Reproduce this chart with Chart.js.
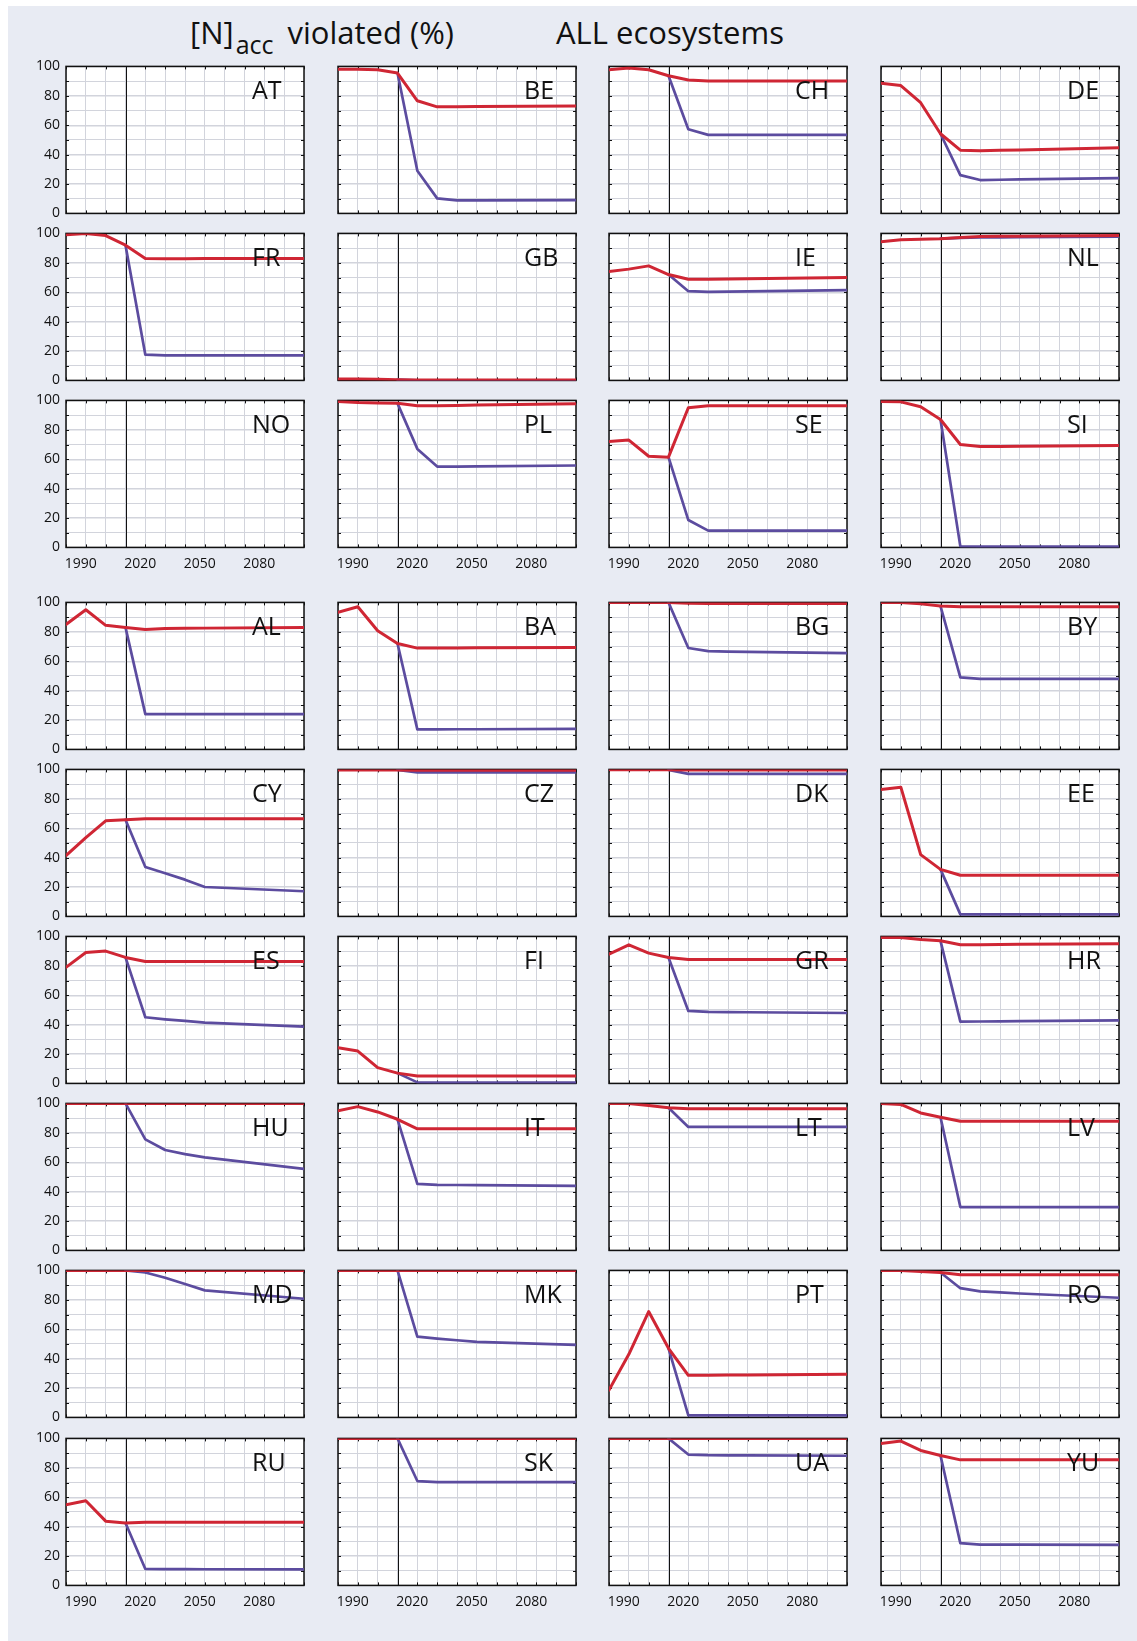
<!DOCTYPE html>
<html>
<head>
<meta charset="utf-8">
<script src="https://cdn.jsdelivr.net/npm/chart.js@4.4.1/dist/chart.umd.min.js"></script>
<style>
  body { margin: 0; background: #fff; width: 1137px; height: 1641px; position: relative; overflow: hidden; font-family: "Open Sans", sans-serif; }
  #bg { position: absolute; left: 8px; top: 6px; right: 0; bottom: 0; background: #e8ebf3; }
  .title { position: absolute; font-size: 31px; line-height: 31px; color: #111; white-space: nowrap; }
  .title sub { font-size: 25px; vertical-align: baseline; position: relative; top: 10px; margin-left: 2px; margin-right: 6px; }
  canvas { position: absolute; }
</style>
</head>
<body>
<div id="bg"></div>
<div class="title" style="left:190px;top:17px">[N]<sub>acc</sub> violated (%)</div>
<div class="title" style="left:556px;top:17px">ALL ecosystems</div>
<script>
// years of the data points, shared by every panel
const years = [1980, 1990, 2000, 2010, 2020, 2030, 2040, 2050, 2100];
const yearLabels = [1990, 2020, 2050, 2080];
const percentLabels = [0, 20, 40, 60, 80, 100];
const markerYear = 2010;

// upper block (3 rows)
const countriesTop = ["AT", "BE", "CH", "DE", "FR", "GB", "IE", "NL", "NO", "PL", "SE", "SI"];
// red line
const cleTop = [
  [],
  [98, 98, 97.7, 95.5, 76.6, 72.5, 72.6, 72.7, 73],
  [97.7, 98.9, 97.7, 93.6, 90.8, 90, 90, 90, 90],
  [88.6, 87, 75.3, 54.2, 43, 42.6, 42.9, 43.2, 44.6],
  [99, 100, 98.5, 92, 83, 82.8, 82.8, 82.9, 83],
  [1, 1, 0.8, 0.5, 0.3, 0.3, 0.3, 0.3, 0.3],
  [74, 75.7, 77.9, 72, 68.8, 68.8, 69, 69.2, 70],
  [94.3, 95.7, 96, 96.4, 97.2, 97.9, 98, 98.1, 98.6],
  [],
  [99.3, 98.6, 98.3, 98, 96.4, 96.4, 96.6, 96.8, 97.8],
  [72, 73, 62, 61.4, 95, 96.4, 96.4, 96.4, 96.4],
  [99.3, 99, 95.7, 87, 70, 68.6, 68.7, 68.8, 69.3]
];
// blue line
const mfrTop = [
  [],
  [null, null, null, 95.5, 29, 10.2, 8.9, 8.9, 9],
  [null, null, null, 93.6, 57.2, 53.4, 53.4, 53.4, 53.4],
  [null, null, null, 54.2, 26, 22.7, 22.9, 23.1, 24],
  [null, null, null, 92, 17.5, 17, 17, 17, 17],
  [null, null, null, 0.5, 0, 0, 0, 0, 0],
  [null, null, null, 72, 60.7, 60.2, 60.4, 60.6, 61.4],
  [null, null, null, 96.4, 97, 97.2, 97.3, 97.4, 97.8],
  [],
  [null, null, null, 98, 67, 55, 55, 55.1, 55.7],
  [null, null, null, 61.4, 18.6, 11.4, 11.4, 11.4, 11.4],
  [null, null, null, 87, 0.7, 0.5, 0.5, 0.5, 0.5]
];

// lower block (6 rows)
const countriesBottom = ["AL", "BA", "BG", "BY", "CY", "CZ", "DK", "EE", "ES", "FI", "GR", "HR",
  "HU", "IT", "LT", "LV", "MD", "MK", "PT", "RO", "RU", "SK", "UA", "YU"];
const cleBottom = [
  [85, 95, 84.4, 83, 81.6, 82.3, 82.4, 82.5, 83],
  [93.2, 97, 80.7, 72, 68.9, 69, 69, 69.1, 69.3],
  [100, 100, 100, 100, 99.4, 99.3, 99.3, 99.3, 99.3],
  [100, 100, 99, 97.5, 97, 97, 97, 97, 97],
  [41.4, 53.6, 65, 65.7, 66.4, 66.4, 66.4, 66.4, 66.4],
  [99.6, 99.6, 99.6, 99.6, 99.5, 99.5, 99.5, 99.5, 99.5],
  [99.7, 99.7, 99.7, 99.7, 99.6, 99.6, 99.6, 99.6, 99.6],
  [86.4, 87.9, 42, 32, 28, 28, 28, 28, 28],
  [79, 89, 90, 85.7, 82.9, 82.9, 82.9, 82.9, 82.9],
  [24.3, 22, 10.7, 7, 5, 5, 5, 5, 5],
  [87.9, 94.3, 88.6, 85.7, 84.3, 84.3, 84.3, 84.3, 84.3],
  [99.3, 99.3, 97.9, 97, 94.3, 94.4, 94.5, 94.6, 95],
  [100, 100, 100, 100, 100, 100, 100, 100, 100],
  [95, 97.8, 94.2, 89.2, 82.7, 82.7, 82.7, 82.7, 82.7],
  [100, 100, 98.6, 97, 96.4, 96.4, 96.4, 96.4, 96.4],
  [100, 99.3, 93.5, 90.6, 87.8, 87.8, 87.8, 87.8, 87.8],
  [100, 100, 100, 100, 100, 100, 100, 100, 100],
  [100, 100, 100, 100, 100, 100, 100, 100, 100],
  [18.6, 42.9, 72, 47, 28.6, 28.7, 28.8, 28.9, 29.3],
  [100, 100, 99.3, 98.6, 97, 97, 97, 97, 97],
  [54.9, 57.6, 43.7, 42.4, 43, 43, 43, 43, 43],
  [100, 100, 100, 100, 100, 100, 100, 100, 100],
  [100, 100, 100, 100, 100, 100, 100, 100, 100],
  [96.6, 98.2, 91.8, 88.4, 85.4, 85.4, 85.4, 85.4, 85.4]
];
const mfrBottom = [
  [null, null, null, 83, 24, 24, 24, 24, 24],
  [null, null, null, 72, 13.6, 13.6, 13.7, 13.7, 14],
  [null, null, null, 100, 69, 66.8, 66.5, 66.3, 65.5],
  [null, null, null, 97.5, 49, 48, 48, 48, 48],
  [null, null, null, 65.7, 33.6, 29.3, 25, 20, 17.1],
  [null, null, null, 99.6, 98, 98, 98, 98, 98],
  [null, null, null, 99.7, 97, 97, 97, 97, 97],
  [null, null, null, 32, 1.4, 1.4, 1.4, 1.4, 1.4],
  [null, null, null, 85.7, 45, 43.6, 42.5, 41.4, 38.6],
  [null, null, null, 7, 0.7, 0.5, 0.5, 0.5, 0.5],
  [null, null, null, 85.7, 49.3, 48.6, 48.5, 48.4, 47.9],
  [null, null, null, 97, 42, 42.1, 42.2, 42.3, 42.9],
  [null, null, null, 100, 75.5, 68.3, 65.5, 63.3, 55.4],
  [null, null, null, 89.2, 45.3, 44.6, 44.5, 44.4, 43.9],
  [null, null, null, 97, 84, 84, 84, 84, 84],
  [null, null, null, 90.6, 29.5, 29.5, 29.5, 29.5, 29.5],
  [null, null, null, 100, 98.6, 95, 90.7, 86.4, 80.7],
  [null, null, null, 100, 55, 53.6, 52.5, 51.4, 49.3],
  [null, null, null, 47, 1.4, 1.4, 1.4, 1.4, 1.4],
  [null, null, null, 98.6, 87.9, 85.7, 85, 84.3, 81.4],
  [null, null, null, 42.4, 11.2, 11.1, 11.1, 11, 10.9],
  [null, null, null, 100, 71, 70.2, 70.2, 70.2, 70.2],
  [null, null, null, 100, 89, 88.6, 88.5, 88.5, 88.2],
  [null, null, null, 88.4, 28.7, 27.8, 27.8, 27.7, 27.6]
];

// geometry of the plot boxes (page pixels)
const PLOT_W = 238, PLOT_H = 147;
const COL_X = [66, 337.7, 609.4, 881];
const TOP_Y0 = 66, TOP_STEP = 167.4;
const BOT_Y0 = 602, BOT_STEP = 167.2;

const RED = "#cf2634";
const BLUE = "#5c4c9f";

// white plot area, black frame, inner ticks and the 2010 marker
const framePlugin = {
  id: "frame",
  beforeDraw(chart) {
    const a = chart.chartArea, ctx = chart.ctx;
    ctx.save();
    ctx.fillStyle = "#fff";
    ctx.fillRect(a.left, a.top, a.right - a.left, a.bottom - a.top);
    ctx.restore();
  },
  beforeDatasetsDraw(chart) {
    const a = chart.chartArea, ctx = chart.ctx;
    const xs = chart.scales.x, ys = chart.scales.y;
    ctx.save();
    ctx.strokeStyle = "#111";
    ctx.lineWidth = 1;
    ctx.beginPath();
    for (let v = 1980; v <= 2100; v += 10) {
      const px = Math.round(xs.getPixelForValue(v)) + 0.5;
      ctx.moveTo(px, a.bottom); ctx.lineTo(px, a.bottom - 3);
      ctx.moveTo(px, a.top); ctx.lineTo(px, a.top + 3);
    }
    for (let v = 0; v <= 100; v += 10) {
      const py = Math.round(ys.getPixelForValue(v)) + 0.5;
      ctx.moveTo(a.left, py); ctx.lineTo(a.left + 3, py);
      ctx.moveTo(a.right, py); ctx.lineTo(a.right - 3, py);
    }
    ctx.stroke();
    const mx = Math.round(xs.getPixelForValue(markerYear)) + 0.5;
    ctx.beginPath();
    ctx.moveTo(mx, a.top); ctx.lineTo(mx, a.bottom);
    ctx.stroke();
    ctx.lineWidth = 1.5;
    ctx.strokeRect(a.left, a.top, a.right - a.left, a.bottom - a.top);
    ctx.restore();
  },
  afterDatasetsDraw(chart, args, opts) {
    const a = chart.chartArea, ctx = chart.ctx;
    ctx.save();
    ctx.fillStyle = "#111";
    ctx.font = '25px "Open Sans"';
    ctx.textAlign = "left";
    ctx.textBaseline = "alphabetic";
    ctx.fillText(opts.code, a.left + 186, a.top + 33);
    ctx.restore();
  }
};

function toPoints(values) {
  return values.map((v, i) => ({ x: years[i], y: v }));
}

function addPanel(code, cle, mfr, plotLeft, plotTop, showY, showX) {
  const canvas = document.createElement("canvas");
  canvas.width = PLOT_W + 70;
  canvas.height = PLOT_H + 50;
  document.body.appendChild(canvas);

  const chart = new Chart(canvas, {
    type: "line",
    data: {
      datasets: [
        { data: toPoints(cle), borderColor: RED, borderWidth: 3 },
        { data: toPoints(mfr), borderColor: BLUE, borderWidth: 2.7 }
      ]
    },
    options: {
      responsive: false,
      maintainAspectRatio: false,
      devicePixelRatio: 1,
      animation: false,
      events: [],
      layout: { padding: { top: 12, right: 12, left: 0, bottom: 0 } },
      elements: { point: { radius: 0 }, line: { tension: 0, borderCapStyle: "round", borderJoinStyle: "round" } },
      plugins: { legend: { display: false }, tooltip: { enabled: false }, frame: { code: code } },
      scales: {
        x: {
          type: "linear", min: 1980, max: 2100,
          grid: { color: "#d2d4dc", lineWidth: 1, drawTicks: false },
          border: { display: false },
          ticks: {
            stepSize: 10, autoSkip: false, maxRotation: 0, minRotation: 0,
            padding: 8, labelOffset: -5, color: "#111",
            font: { family: "Open Sans", size: 14 },
            callback: (v) => (showX && yearLabels.includes(v) ? String(v) : "")
          },
          afterFit: (s) => { s.height = 32; }
        },
        y: {
          min: 0, max: 100,
          grid: { color: "#d2d4dc", lineWidth: (c) => (c.tick && c.tick.value % 20 === 0 ? 1.4 : 1), drawTicks: false },
          border: { display: false },
          ticks: {
            stepSize: 10, autoSkip: false, padding: 6, color: "#111",
            font: { family: "Open Sans", size: 14 },
            callback: (v) => (showY && percentLabels.includes(v) ? String(v) : "")
          },
          afterFit: (s) => { s.width = 52; }
        }
      }
    },
    plugins: [framePlugin]
  });

  // make the plot box exactly PLOT_W x PLOT_H and put it where it belongs
  let a = chart.chartArea;
  const dw = PLOT_W - (a.right - a.left);
  const dh = PLOT_H - (a.bottom - a.top);
  if (Math.abs(dw) > 0.01 || Math.abs(dh) > 0.01) {
    chart.resize(canvas.width + dw, canvas.height + dh);
    a = chart.chartArea;
  }
  canvas.style.left = Math.round(plotLeft - a.left) + "px";
  canvas.style.top = Math.round(plotTop - a.top) + "px";
}

countriesTop.forEach((code, i) => {
  const row = Math.floor(i / 4), col = i % 4;
  addPanel(code, cleTop[i], mfrTop[i], COL_X[col], TOP_Y0 + row * TOP_STEP, col === 0, row === 2);
});
countriesBottom.forEach((code, i) => {
  const row = Math.floor(i / 4), col = i % 4;
  addPanel(code, cleBottom[i], mfrBottom[i], COL_X[col], BOT_Y0 + row * BOT_STEP, col === 0, row === 5);
});
</script>
</body>
</html>
